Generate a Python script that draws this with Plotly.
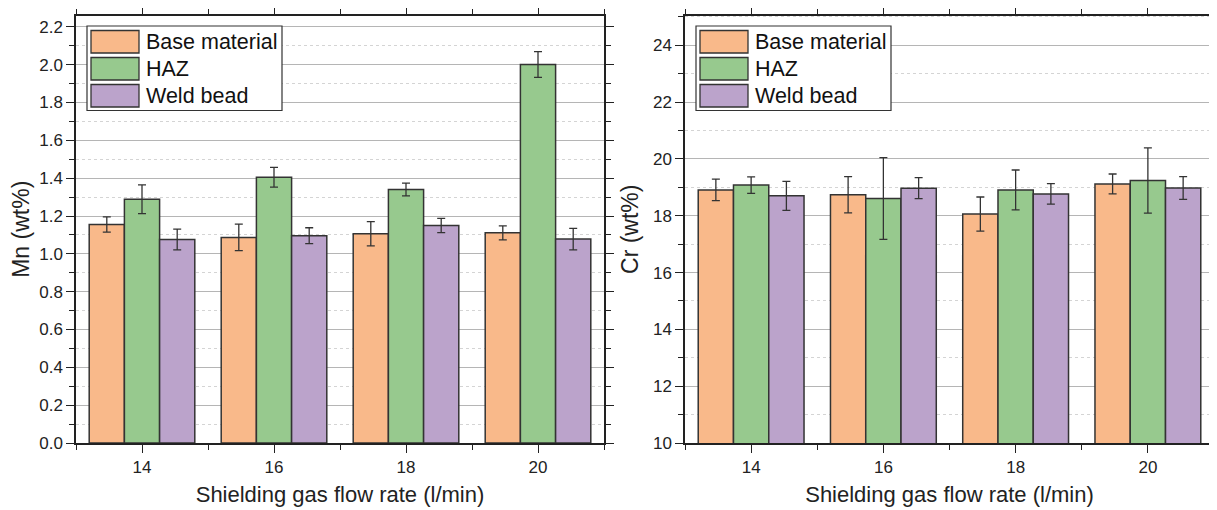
import plotly.graph_objects as go
from plotly.subplots import make_subplots

flow_rates = [14, 16, 18, 20]
series_names = ["Base material", "HAZ", "Weld bead"]
colors = ["#F9B98A", "#97C98E", "#BBA3CB"]

mn_base = [1.155, 1.087, 1.106, 1.111]
mn_haz = [1.289, 1.405, 1.340, 2.001]
mn_weld = [1.076, 1.096, 1.150, 1.078]
mn_base_err = [0.040, 0.070, 0.064, 0.037]
mn_haz_err = [0.076, 0.052, 0.034, 0.068]
mn_weld_err = [0.055, 0.042, 0.038, 0.057]

cr_base = [18.91, 18.74, 18.06, 19.12]
cr_haz = [19.08, 18.61, 18.91, 19.24]
cr_weld = [18.70, 18.97, 18.77, 18.98]
cr_base_err = [0.38, 0.64, 0.60, 0.35]
cr_haz_err = [0.29, 1.44, 0.70, 1.15]
cr_weld_err = [0.51, 0.37, 0.36, 0.40]

mn_vals = [mn_base, mn_haz, mn_weld]
mn_errs = [mn_base_err, mn_haz_err, mn_weld_err]
cr_vals = [cr_base, cr_haz, cr_weld]
cr_errs = [cr_base_err, cr_haz_err, cr_weld_err]

FONT = "Liberation Sans, Arial, sans-serif"
OFF = 8  # default page body margin in the rendered HTML
W, H = 1217 - OFF, 510 - OFF

fig = make_subplots(rows=1, cols=2)

for col, (vals, errs) in enumerate([(mn_vals, mn_errs), (cr_vals, cr_errs)], start=1):
    for name, v, e, c in zip(series_names, vals, errs, colors):
        fig.add_trace(go.Bar(
            x=flow_rates, y=v, name=name, showlegend=False,
            marker=dict(color=c, line=dict(color="#333333", width=1.5)),
            error_y=dict(type="data", array=e, visible=True,
                         color="#333333", thickness=1.3, width=4),
        ), row=1, col=col)

# plot-area edges in page pixels
L1, R1 = 76, 604
L2, R2 = 685, 1214
TOP, BOT = 15.5, 443

def fx(p):
    return (p - OFF) / W

def fy(p):
    return (H - (p - OFF)) / H

axis_common = dict(
    showline=True, linecolor="#222222", linewidth=1.5, mirror="ticks",
    ticks="outside", ticklen=8, tickwidth=1.3, tickcolor="#222222",
    tickfont=dict(family=FONT, size=17, color="#222222"),
    zeroline=False, automargin=False,
)

xaxis_common = dict(axis_common, range=[13, 21], tickmode="array",
                    tickvals=flow_rates, ticktext=[str(v) for v in flow_rates],
                    showgrid=False,
                    minor=dict(dtick=1, tick0=13, ticks="outside", ticklen=5,
                               tickwidth=1.3, tickcolor="#222222", showgrid=False),
                    title=dict(text="Shielding gas flow rate (l/min)",
                               font=dict(family=FONT, size=22, color="#222222"),
                               standoff=10))

fig.update_xaxes(**xaxis_common, domain=[fx(L1), fx(R1)], row=1, col=1)
fig.update_xaxes(**xaxis_common, domain=[fx(L2), fx(R2)], row=1, col=2)

fig.update_yaxes(**axis_common, domain=[fy(BOT), fy(TOP)], row=1, col=1,
                 range=[0, 2.26], dtick=0.2, tick0=0, tickformat=".1f",
                 showgrid=True, gridcolor="#b5b5b5", gridwidth=1,
                 minor=dict(dtick=0.1, tick0=0, ticks="outside", ticklen=5,
                            tickwidth=1.3, tickcolor="#222222", showgrid=True,
                            gridcolor="#d4d4d4", griddash="dot", gridwidth=1),
                 title=dict(text="Mn (wt%)",
                            font=dict(family=FONT, size=23, color="#222222"),
                            standoff=8))
fig.update_yaxes(**axis_common, domain=[fy(BOT), fy(TOP)], row=1, col=2,
                 range=[10, 25.05], dtick=2, tick0=10,
                 showgrid=True, gridcolor="#b5b5b5", gridwidth=1,
                 minor=dict(dtick=1, tick0=10, ticks="outside", ticklen=5,
                            tickwidth=1.3, tickcolor="#222222", showgrid=True,
                            gridcolor="#d4d4d4", griddash="dot", gridwidth=1),
                 title=dict(text="Cr (wt%)",
                            font=dict(family=FONT, size=23, color="#222222"),
                            standoff=8))

# Custom legends (large swatches), in axis-domain coordinates
shapes = []
annotations = []
for xr, yr, L, R in [("x domain", "y domain", L1, R1), ("x2 domain", "y2 domain", L2, R2)]:
    wpx = R - L
    hpx = BOT - TOP
    def dx(p, L=L, wpx=wpx):
        return (p - L) / wpx
    def dy(p, hpx=hpx):
        return (BOT - p) / hpx
    box_l = L + 11
    shapes.append(dict(type="rect", xref=xr, yref=yr,
                       x0=dx(box_l), x1=dx(box_l + 195), y0=dy(110.5), y1=dy(26),
                       line=dict(color="#333333", width=1.2), fillcolor="white", layer="above"))
    sw_tops = [30.5, 57.5, 84.5]
    for i, (name, c) in enumerate(zip(series_names, colors)):
        t = sw_tops[i]
        shapes.append(dict(type="rect", xref=xr, yref=yr,
                           x0=dx(box_l + 4), x1=dx(box_l + 52), y0=dy(t + 22.5), y1=dy(t),
                           line=dict(color="#333333", width=1.3), fillcolor=c, layer="above"))
        annotations.append(dict(xref=xr, yref=yr, x=dx(box_l + 57), y=dy(t + 11.5),
                                text=name, showarrow=False, xanchor="left", yanchor="middle",
                                font=dict(family=FONT, size=21.5, color="#111111")))

fig.update_layout(
    width=W, height=H,
    margin=dict(l=0, r=0, t=0, b=0),
    paper_bgcolor="white", plot_bgcolor="white",
    barmode="group", bargap=0.2, bargroupgap=0,
    shapes=shapes, annotations=annotations,
    font=dict(family=FONT),
)

fig.write_html("out.html")
